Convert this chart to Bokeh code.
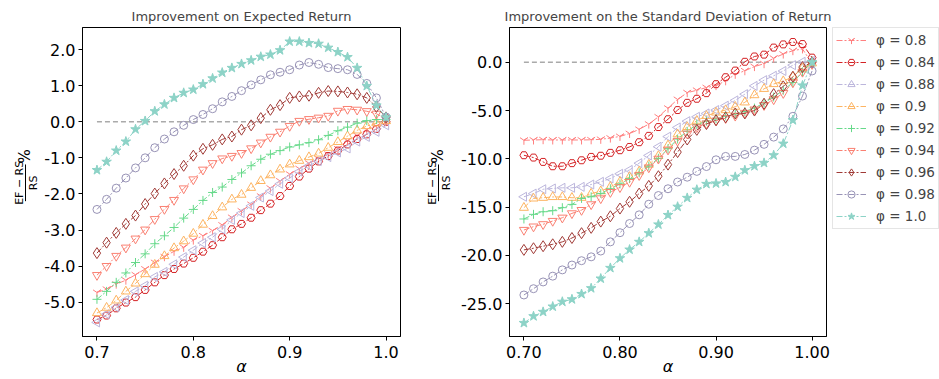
import numpy as np
from bokeh.plotting import figure
from bokeh.layouts import row
from bokeh.models import (Legend, LegendItem, FixedTicker, PrintfTickFormatter, Range1d)
from bokeh.core.properties import value
from bokeh.embed import file_html
from bokeh.resources import INLINE

# confidence level alpha on the x axis
alpha = [0.70, 0.71, 0.72, 0.73, 0.74, 0.75, 0.76, 0.77, 0.78, 0.79, 0.80,
         0.81, 0.82, 0.83, 0.84, 0.85, 0.86, 0.87, 0.88, 0.89, 0.90,
         0.91, 0.92, 0.93, 0.94, 0.95, 0.96, 0.97, 0.98, 0.99, 1.00]

phi_labels = ["0.8", "0.84", "0.88", "0.9", "0.92", "0.94", "0.96", "0.98", "1.0"]

# improvement on expected return, (EF - RS) / RS in percent
ret_080 = [-4.73, -4.64, -4.50, -4.39, -4.24, -4.08, -3.90, -3.74, -3.59, -3.48, -3.28, -3.16, -3.02, -2.86, -2.65, -2.47,
           -2.29, -2.06, -1.84, -1.64, -1.45, -1.30, -1.15, -1.03, -0.90, -0.75, -0.52, -0.38, -0.22, -0.12, 0.00]
ret_084 = [-5.48, -5.37, -5.17, -5.01, -4.86, -4.66, -4.45, -4.25, -4.08, -3.93, -3.77, -3.60, -3.42, -3.20, -2.98, -2.83,
           -2.66, -2.45, -2.27, -2.06, -1.78, -1.52, -1.30, -1.10, -0.95, -0.80, -0.63, -0.48, -0.35, -0.20, 0.00]
ret_088 = [-5.56, -5.33, -5.14, -4.94, -4.70, -4.54, -4.30, -4.16, -3.95, -3.75, -3.56, -3.36, -3.20, -2.98, -2.72, -2.53,
           -2.33, -2.10, -1.92, -1.72, -1.56, -1.38, -1.22, -1.09, -0.98, -0.85, -0.74, -0.55, -0.42, -0.28, -0.10]
ret_090 = [-5.30, -5.15, -4.95, -4.70, -4.48, -4.22, -3.96, -3.72, -3.50, -3.31, -3.10, -2.85, -2.61, -2.37, -2.15, -2.02,
           -1.83, -1.64, -1.48, -1.32, -1.18, -1.08, -0.98, -0.88, -0.72, -0.56, -0.40, -0.24, -0.12, -0.04, 0.02]
ret_092 = [-4.92, -4.70, -4.45, -4.19, -3.90, -3.66, -3.38, -3.16, -2.93, -2.67, -2.43, -2.18, -1.96, -1.81, -1.60, -1.42,
           -1.22, -1.04, -0.90, -0.80, -0.70, -0.64, -0.58, -0.50, -0.38, -0.25, -0.15, -0.04, 0.03, 0.06, 0.06]
ret_094 = [-4.25, -4.00, -3.72, -3.49, -3.24, -2.99, -2.70, -2.42, -2.17, -1.85, -1.60, -1.33, -1.15, -1.02, -0.95, -0.87,
           -0.74, -0.58, -0.42, -0.28, -0.12, 0.02, 0.07, 0.11, 0.16, 0.30, 0.35, 0.33, 0.29, 0.22, 0.08]
ret_096 = [-3.64, -3.35, -3.08, -2.83, -2.60, -2.28, -1.99, -1.71, -1.45, -1.22, -0.94, -0.75, -0.64, -0.49, -0.41, -0.22,
           -0.10, 0.10, 0.33, 0.46, 0.66, 0.70, 0.72, 0.80, 0.85, 0.84, 0.81, 0.76, 0.66, 0.41, 0.12]
ret_098 = [-2.43, -2.15, -1.84, -1.56, -1.28, -1.00, -0.72, -0.48, -0.28, -0.10, 0.06, 0.20, 0.36, 0.55, 0.70, 0.86,
           1.02, 1.16, 1.30, 1.37, 1.44, 1.57, 1.64, 1.59, 1.50, 1.47, 1.44, 1.31, 1.06, 0.66, 0.13]
ret_100 = [-1.34, -1.11, -0.80, -0.55, -0.21, 0.02, 0.29, 0.48, 0.66, 0.80, 0.89, 1.04, 1.20, 1.36, 1.49, 1.60,
           1.70, 1.80, 1.86, 1.98, 2.22, 2.22, 2.18, 2.16, 2.05, 1.93, 1.79, 1.49, 0.99, 0.45, 0.12]

# improvement on the standard deviation of return, percent
std_080 = [-8.08, -8.05, -8.02, -8.05, -8.05, -8.05, -8.05, -8.03, -7.98, -7.85, -7.68, -7.38, -6.95, -6.40, -5.65, -4.75,
           -3.85, -3.15, -2.90, -2.62, -2.42, -1.92, -1.25, -0.88, -0.45, -0.15, 0.42, 0.85, 1.20, 1.38, -0.15]
std_084 = [-9.63, -9.87, -10.32, -10.77, -10.77, -10.45, -10.15, -9.80, -9.68, -9.38, -9.11, -8.77, -8.28, -7.62, -6.71, -5.90,
           -4.95, -4.20, -3.78, -3.20, -2.27, -1.55, -0.86, 0.05, 0.60, 0.79, 1.52, 1.85, 2.10, 1.89, 0.48]
std_088 = [-13.93, -13.60, -13.15, -13.07, -13.00, -13.00, -12.90, -12.66, -12.38, -12.04, -11.55, -11.15, -10.45, -9.65, -8.75, -7.70,
           -6.75, -6.10, -5.65, -5.30, -4.95, -4.50, -3.95, -3.30, -2.45, -1.85, -1.40, -0.90, -0.30, 0.05, 0.15]
std_090 = [-15.06, -14.10, -14.03, -13.95, -13.95, -14.03, -14.03, -13.60, -13.35, -12.90, -12.38, -11.87, -11.30, -10.60, -9.70, -8.60,
           -7.45, -6.70, -6.05, -5.55, -5.20, -4.95, -4.60, -4.15, -3.40, -2.75, -2.25, -1.95, -1.50, -0.60, -0.10]
std_092 = [-16.23, -15.75, -15.48, -15.37, -15.06, -14.72, -14.10, -13.93, -13.58, -13.10, -12.60, -12.05, -11.45, -10.75, -9.95, -8.95,
           -7.95, -7.15, -6.45, -6.10, -5.85, -5.55, -5.35, -5.10, -4.75, -4.20, -3.60, -2.90, -2.10, -1.00, 0.10]
std_094 = [-17.37, -17.02, -16.78, -16.44, -16.10, -15.65, -15.31, -14.72, -14.10, -13.45, -12.95, -12.40, -11.70, -10.90, -10.00, -9.05,
           -8.15, -7.40, -6.75, -6.35, -6.05, -5.80, -5.55, -5.25, -4.90, -4.45, -3.85, -3.20, -2.10, -1.00, -0.20]
std_096 = [-19.43, -19.26, -19.05, -18.85, -18.60, -18.20, -17.70, -17.15, -16.50, -15.95, -15.15, -14.45, -13.60, -12.80, -11.80, -10.60,
           -9.30, -8.00, -7.00, -6.40, -6.00, -5.70, -5.30, -5.30, -5.00, -4.30, -3.30, -2.50, -1.50, -0.50, 0.00]
std_098 = [-24.10, -23.45, -22.75, -22.15, -21.50, -21.00, -20.55, -20.15, -19.55, -18.60, -17.65, -16.70, -15.80, -14.70, -13.80, -13.10,
           -12.40, -11.90, -11.30, -10.80, -10.10, -9.75, -9.75, -9.55, -9.10, -8.50, -7.75, -6.90, -5.60, -3.50, -0.90]
std_100 = [-27.00, -26.30, -25.85, -25.30, -24.80, -24.55, -24.00, -23.40, -22.40, -21.30, -20.30, -19.40, -18.60, -17.70, -16.80, -15.82,
           -14.96, -14.05, -13.20, -12.60, -12.55, -12.40, -11.87, -11.18, -10.76, -10.42, -9.63, -8.43, -6.00, -2.40, 0.00]

ret_series = [ret_080, ret_084, ret_088, ret_090, ret_092, ret_094, ret_096, ret_098, ret_100]
std_series = [std_080, std_084, std_088, std_090, std_092, std_094, std_096, std_098, std_100]

ret_ticks = [-5.0, -4.0, -3.0, -2.0, -1.0, 0.0, 1.0, 2.0]
std_ticks = [-25.0, -20.0, -15.0, -10.0, -5.0, 0.0]
alpha_ticks = [0.7, 0.8, 0.9, 1.0]

# per-series style: colour, marker, size, angle, filled
styles = [
    ("#ff8080", "y", 9, 0.0, False),
    ("#d42225", "hex", 8, 0.0, False),
    ("#bcb6dc", "triangle", 9, np.pi / 2, False),
    ("#fdb462", "triangle", 9, 0.0, False),
    ("#66d98a", "cross", 9, 0.0, False),
    ("#fa8072", "inverted_triangle", 9, 0.0, False),
    ("#a03a36", "diamond", 11, 0.0, False),
    ("#9893b6", "circle", 8, 0.0, False),
    ("#8dd3c7", "star", 10, 0.0, True),
]
DASH = "6 2 2 2"

FONT = "DejaVu Sans"
TOP, BOTTOM, H = 27, 43, 379


def draw_series(p, xs, vals, style):
    col, mk, sz, ang, filled = style
    lr = p.line(xs, vals, line_color=col, line_width=1, line_dash=DASH)
    sr = p.scatter(xs, vals, marker=mk, size=sz, angle=ang, line_color=col, line_width=1,
                   fill_color=col if filled else "white", fill_alpha=1.0 if filled else 0.0)
    return lr, sr


def make_panel(width, left, right, x_rng, y_rng, yticks, xfmt, title, series):
    p = figure(width=width, height=H, x_range=Range1d(*x_rng), y_range=Range1d(*y_rng),
               output_backend="svg", toolbar_location=None,
               min_border_left=left, min_border_right=right,
               min_border_top=TOP, min_border_bottom=BOTTOM)
    p.xgrid.visible = False
    p.ygrid.visible = False
    p.outline_line_color = "black"
    p.outline_line_width = 1
    p.background_fill_color = "white"
    p.border_fill_color = "white"
    p.title.text = title
    p.title.align = "center"
    p.title.offset = -2
    p.title.text_font = FONT
    p.title.text_font_style = "normal"
    p.title.text_font_size = "13px"
    p.title.standoff = 8
    for ax in (p.xaxis[0], p.yaxis[0]):
        ax.major_label_text_font = FONT
        ax.major_label_text_font_size = "16px"
        ax.major_label_text_color = "black"
        ax.axis_line_color = "black"
        ax.major_tick_line_color = "black"
        ax.major_tick_out = 4
        ax.major_tick_in = 0
        ax.minor_tick_line_color = None
    p.xaxis.ticker = FixedTicker(ticks=alpha_ticks)
    p.xaxis.formatter = PrintfTickFormatter(format=xfmt)
    p.xaxis.major_label_standoff = 5
    p.xaxis.axis_label = "\u03b1"
    p.xaxis.axis_label_text_font = FONT
    p.xaxis.axis_label_text_font_style = "italic"
    p.xaxis.axis_label_text_font_size = "16px"
    p.xaxis.axis_label_text_color = "black"
    p.xaxis.axis_label_standoff = -4
    p.yaxis.ticker = FixedTicker(ticks=yticks)
    p.yaxis.formatter = PrintfTickFormatter(format="%.1f")
    p.yaxis.major_label_standoff = 3

    # reference line at zero improvement
    p.line([alpha[0], alpha[-1]], [0, 0], line_color="#aaaaaa", line_width=1.5, line_dash="5 3")

    for vals, style in zip(series, styles):
        draw_series(p, alpha, vals, style)
    return p


def ylabel_strip(width, bar_x):
    # narrow strip holding the rotated (EF - RS) / RS % axis title
    s = figure(width=width, height=H, x_range=Range1d(0, width), y_range=Range1d(0, H),
               x_axis_type=None, y_axis_type=None, output_backend="svg", toolbar_location=None,
               min_border=0, outline_line_color=None)
    s.border_fill_color = "white"
    frac_y = H - 190.5
    s.text(x=[bar_x - 6.5, bar_x + 7.5], y=[frac_y, frac_y], text=["EF \u2212 RS", "RS"],
           angle=np.pi / 2, text_align="center", text_baseline="middle",
           text_font=value(FONT), text_font_size=value("11px"), text_color="black")
    s.segment(x0=[bar_x], y0=[H - 213], x1=[bar_x], y1=[H - 168], line_color="black", line_width=1)
    s.text(x=[bar_x - 0.5], y=[H - 158], text=["%"], angle=np.pi / 2, text_align="center",
           text_baseline="middle", text_font=value(FONT), text_font_size=value("15px"),
           text_color="black")
    return s


def legend_strip(width):
    # strip to the right of the second panel carrying the shared legend;
    # its proxy renderers hold no visible points
    s = figure(width=width, height=H, x_range=Range1d(0, 1), y_range=Range1d(0, 1),
               x_axis_type=None, y_axis_type=None, output_backend="svg", toolbar_location=None,
               min_border_left=0, min_border_right=0, min_border_top=26, min_border_bottom=0,
               outline_line_color=None)
    s.border_fill_color = "white"
    items = []
    for style, lab in zip(styles, phi_labels):
        lr, sr = draw_series(s, [np.nan], [np.nan], style)
        items.append(LegendItem(label="\u03c6 = " + lab, renderers=[lr, sr]))
    legend = Legend(items=items, location="top_left", orientation="vertical",
                    padding=3, spacing=4, margin=0, label_height=18, glyph_height=18, glyph_width=30,
                    label_standoff=10, label_text_font=FONT, label_text_font_size="13.5px",
                    border_line_color="#cccccc", border_line_width=1,
                    background_fill_color="white", background_fill_alpha=0.8)
    s.add_layout(legend)
    return s


s1 = ylabel_strip(38, 25)
p1 = make_panel(382, 44, 20, (0.685, 1.015), (-5.95, 2.61), ret_ticks, "%.1f",
                "Improvement on Expected Return", ret_series)
s2 = ylabel_strip(37, 18)
p2 = make_panel(375, 52, 6, (0.685, 1.015), (-28.4, 3.6), std_ticks, "%.2f",
                "Improvement on the Standard Deviation of Return", std_series)
s3 = legend_strip(107)

layout = row(s1, p1, s2, p2, s3)
open("out.html", "w").write(file_html(layout, INLINE))
